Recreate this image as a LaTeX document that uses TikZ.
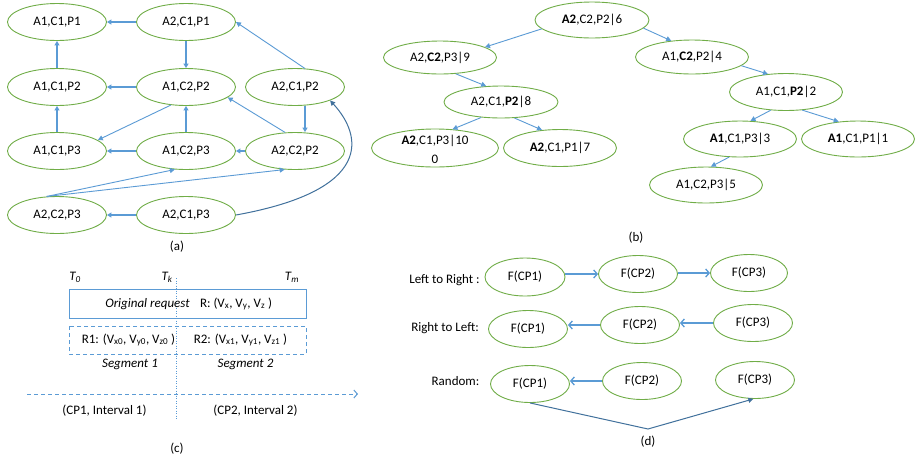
\documentclass[tikz,border=0pt]{standalone}
\usepackage{fontspec}
\setmainfont{Carlito}
\usetikzlibrary{shapes.geometric,arrows.meta,calc}
\definecolor{egreen}{RGB}{112,173,71}
\definecolor{abl}{RGB}{91,155,213}
\definecolor{dbl}{RGB}{65,113,156}
\tikzset{
  ea/.style={ellipse, draw=egreen, line width=0.9pt, inner sep=0pt, minimum width=99pt, minimum height=37pt},
  eb/.style={ellipse, draw=egreen, line width=0.9pt, inner sep=0pt, minimum width=113pt, minimum height=35pt},
  ed/.style={ellipse, draw=egreen, line width=0.9pt, inner sep=0pt, minimum width=79pt, minimum height=37pt},
  txt/.style={inner sep=0pt},
  sa/.style={draw=abl, line width=1.4pt, -{Triangle[length=4.5pt,width=5pt]}},
  da/.style={draw=abl, line width=0.9pt, -{Triangle[length=5pt,width=5pt]}},
  ca/.style={draw=dbl, line width=1pt, -{Triangle[length=5pt,width=5pt]}},
  oa/.style={draw=abl, line width=1.3pt, -{Straight Barb[length=3.5pt,width=8pt]}},
  pa/.style={draw=dbl, line width=1pt, -{Triangle[length=5pt,width=5pt]}},
  boxline/.style={draw=abl, line width=1pt},
  dashline/.style={draw=abl, line width=1pt, dash pattern=on 4pt off 3pt},
}
\begin{document}
\begin{tikzpicture}[x=1pt,y=-1pt,font=\fontsize{13}{15.6}\selectfont]
\useasboundingbox[fill=white] (0,0) rectangle (916,459);

% ---------- (a) ----------
\node[ea] (A1C1P1) at (57,22) {A1,C1,P1};
\node[ea] (A2C1P1) at (186,22) {A2,C1,P1};
\node[ea] (A1C1P2) at (57,87) {A1,C1,P2};
\node[ea] (A1C2P2) at (186,87) {A1,C2,P2};
\node[ea] (A2C1P2) at (295,87) {A2,C1,P2};
\node[ea] (A1C1P3) at (57,151) {A1,C1,P3};
\node[ea] (A1C2P3) at (186,151) {A1,C2,P3};
\node[ea] (A2C2P2) at (295,151) {A2,C2,P2};
\node[ea] (A2C2P3) at (57,215) {A2,C2,P3};
\node[ea] (A2C1P3) at (186,215) {A2,C1,P3};
\node[txt] (la) at (177,247) {(a)};

\draw[sa] (A2C1P1) -- (A1C1P1);
\draw[sa] (A2C1P1) -- (A1C2P2);
\draw[sa] (A1C1P2) -- (A1C1P1);
\draw[sa] (A1C2P2) -- (A1C1P2);
\draw[da] (A2C1P2.62) -- (A2C1P1.east);
\draw[sa] ([xshift=10pt]A2C1P2.south) -- ([xshift=10pt]A2C2P2.north);
\draw[sa] (A1C1P3) -- (A1C1P2);
\draw[da] (A1C2P2.-130) -- (A1C1P3.15);
\draw[sa] (A1C2P3) -- (A1C2P2);
\draw[da] (A2C2P2.118) -- (A1C2P2.-14);
\draw[sa] (A1C2P3) -- (A1C1P3);
\draw[sa] (A2C2P2) -- (A1C2P3);
\draw[da] (A2C2P3.119) -- (A1C2P3.-121);
\draw[da] (A2C2P3.119) -- (A2C2P2.-119);
\draw[sa] (A2C1P3) -- (A2C2P3);
\draw[ca] (A2C1P3.east) .. controls (375,190) and (362,135) .. (A2C1P2.-21);

% ---------- (b) ----------
\node[eb, minimum width=114pt, minimum height=36pt] (root) at (592,20) {\textbf{A2},C2,P2|6};
\node[eb, minimum height=33pt] (b9) at (440,57.5) {A2,\textbf{C2},P3|9};
\node[eb, minimum height=34pt] (b4) at (692,57) {A1,\textbf{C2},P2|4};
\node[eb, minimum width=114pt, minimum height=32pt] (b8) at (501,102) {A2,C1,\textbf{P2}|8};
\node[eb, minimum height=37pt] (b2) at (786,92) {A1,C1,\textbf{P2}|2};
\node[eb, minimum width=127pt, minimum height=38pt] (b10) at (435,148) {};
\node[txt] (b10t) at (435,141) {\textbf{A2},C1,P3|10};
\node[txt] (b10u) at (435,159) {0};
\node[eb, minimum height=37pt] (b7) at (560,148) {\textbf{A2},C1,P1|7};
\node[eb, minimum height=36pt] (b3) at (740,139) {\textbf{A1},C1,P3|3};
\node[eb, minimum height=36pt] (b1) at (858,139) {\textbf{A1},C1,P1|1};
\node[eb, minimum height=36pt] (b5) at (706,185) {A1,C2,P3|5};
\node[txt] (lb) at (636,238) {(b)};

\draw[da] (root.190) -- (b9.13);
\draw[da] (root.-9) -- (b4.142);
\draw[da] (b9.-46) -- (b8.133);
\draw[da] (b4.-10) -- (b2.135);
\draw[da] (b8.-142) -- (b10.47);
\draw[da] (b8.-50) -- (b7.135);
\draw[da] (b2.-130) -- (b3.60);
\draw[da] (b2.-48) -- (b1.138);
\draw[da] (b3.-121) -- (b5.75);

% ---------- (c) ----------
\node[txt] (t0) at (75,277) {\textit{T\textsubscript{0}}};
\node[txt] (tk) at (167,277) {\textit{T\textsubscript{k}}};
\node[txt] (tm) at (292,277) {\textit{T\textsubscript{m}}};
\draw[boxline] (69,289) rectangle (306,318);
\draw[dashline] (69,326) rectangle (306,354);
\draw[draw=abl, line width=0.5pt, dash pattern=on 1pt off 1.5pt] (176,278) -- (176,420);
\node[txt] (orq) at (147.5,304) {\textit{Original request}};
\node[txt] (rr) at (236,304) {R: (V\textsubscript{x}, V\textsubscript{y}, V\textsubscript{z} )};
\node[txt] (r1) at (128.5,340) {R1: (V\textsubscript{x0}, V\textsubscript{y0}, V\textsubscript{z0} )};
\node[txt] (r2) at (240.5,340) {R2: (V\textsubscript{x1}, V\textsubscript{y1}, V\textsubscript{z1} )};
\node[txt] (s1) at (130,364) {\textit{Segment 1}};
\node[txt] (s2) at (245.5,364) {\textit{Segment 2}};
\draw[dashline, -{Straight Barb[length=3.5pt,width=8pt]}] (27,394) -- (358,394);
\node[txt] (i1) at (104.5,411) {(CP1, Interval 1)};
\node[txt] (i2) at (255.5,411) {(CP2, Interval 2)};
\node[txt] (lc) at (177,449) {(c)};

% ---------- (d) ----------
\node[txt] (l1) at (444.5,280) {Left to Right :};
\node[txt] (l2) at (445,328) {Right to Left:};
\node[txt] (l3) at (455.5,381) {Random:};
\node[ed, minimum width=80pt, minimum height=38pt] (r1a) at (525,277) {F(CP1)};
\node[ed] (r1b) at (638,274) {F(CP2)};
\node[ed, minimum width=77pt] (r1c) at (749,273) {F(CP3)};
\node[ed] (r2a) at (528,329) {F(CP1)};
\node[ed] (r2b) at (640,325) {F(CP2)};
\node[ed] (r2c) at (753,323) {F(CP3)};
\node[ed] (r3a) at (530,384) {F(CP1)};
\node[ed] (r3b) at (642,381) {F(CP2)};
\node[ed] (r3c) at (755,380) {F(CP3)};
\coordinate (dk) at (648,429);
\node[txt] (ld) at (648,442) {(d)};

\draw[oa] (r1a.east |- r1b.west) -- (r1b.west);
\draw[oa] (r1b.east |- r1c.west) -- (r1c.west);
\draw[oa] (r2c.west) -- (r2c.west -| r2b.east);
\draw[oa] (r2b.west) -- (r2b.west -| r2a.east);
\draw[oa] (r3b.west) -- (r3b.west -| r3a.east);
\draw[pa] (r3a.south) -- (dk) -- (r3c.-95);
\end{tikzpicture}
\end{document}
